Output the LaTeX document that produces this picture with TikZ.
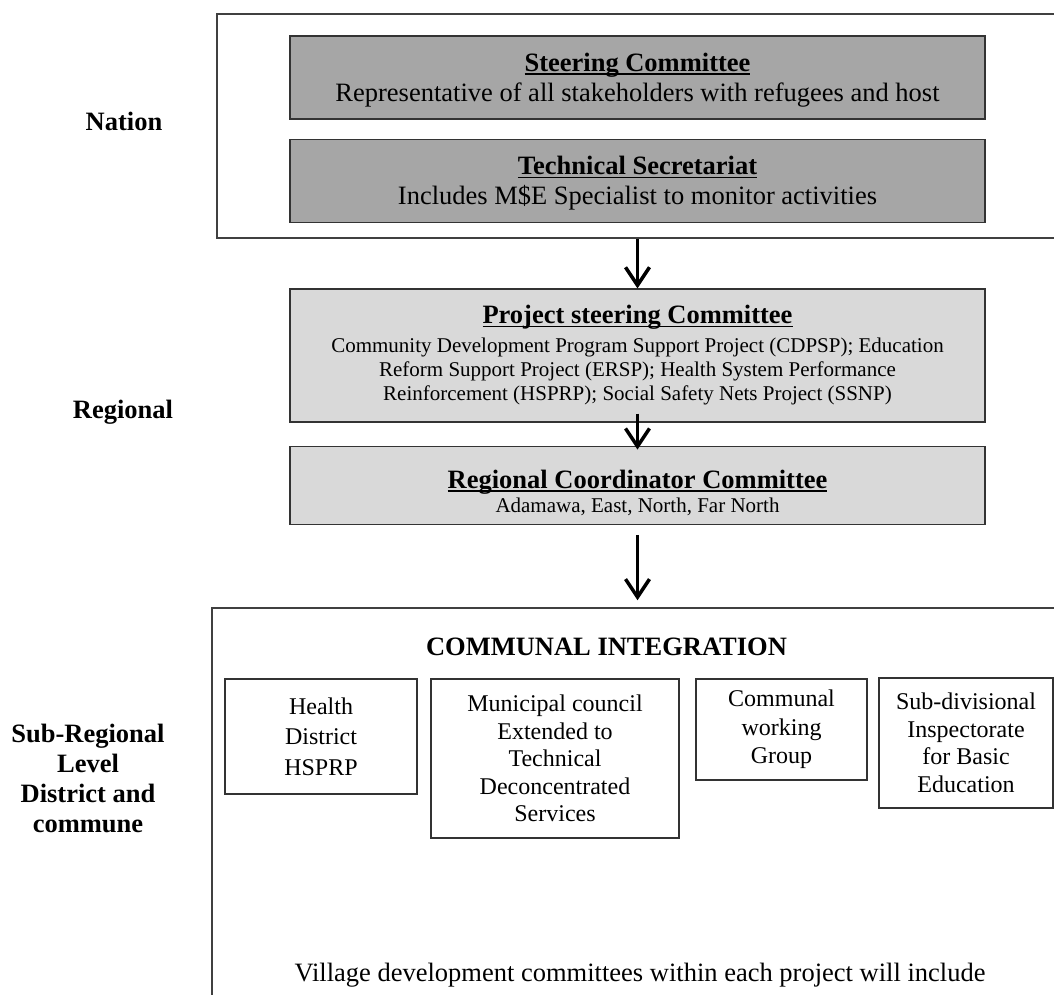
\documentclass[tikz,border=0pt]{standalone}
\usepackage{fontspec}
\setmainfont{Liberation Serif}
\usetikzlibrary{arrows.meta,positioning}

\newcommand{\uln}[1]{\setbox0\hbox{#1}\leavevmode\rlap{\rule[-3.5pt]{\wd0}{1.8pt}}\box0}
\newcommand{\bigtxt}{\fontsize{26.5}{30}\selectfont}
\newcommand{\midtxt}{\fontsize{24}{27.5}\selectfont}
\newcommand{\smalltxt}{\fontsize{21}{24}\selectfont}

\tikzset{
  outerbox/.style={draw=black!75, line width=1.5pt},
  darkbox/.style={draw=black!80, fill=black!35, line width=1.2pt, inner sep=0pt,
                  minimum width=695pt, align=center, font=\bigtxt},
  lightbox/.style={draw=black!80, fill=black!15, line width=1.2pt, inner sep=0pt,
                   minimum width=695pt, align=center, font=\smalltxt},
  subbox/.style={draw=black!80, line width=1.2pt, inner sep=0pt, align=center},
  level/.style={font=\bigtxt\bfseries, align=center},
  flow/.style={-{Straight Barb[length=18pt,width=24pt]}, line width=3.5pt}
}

\begin{document}
\begin{tikzpicture}[x=1pt,y=-1pt]
  \useasboundingbox (0,0) rectangle (1054,995);
  \clip (0,0) rectangle (1054,995);

  % level names
  \node[level] (nation) at (124,121) {Nation};
  \node[level] (regional) at (123,412) {Regional};
  \node[level] (subreg) at (88,778) {Sub-Regional\\Level\\District and\\commune};

  % nation
  \node[outerbox, minimum width=863pt, minimum height=224pt] (nat) at (648.5,126) {};
  \node[darkbox, minimum height=83pt] (steer) at (637.5,77.5)
    {\rule{0pt}{24pt}\textbf{\uln{Steering Committee}}\\Representative of all stakeholders with refugees and host};
  \node[darkbox, minimum height=83pt, below=19pt of steer] (techsec)
    {\rule{0pt}{24pt}\textbf{\uln{Technical Secretariat}}\\Includes M\$E Specialist to monitor activities};

  % regional
  \node[lightbox, minimum height=133pt] (psc) at (637.5,355.5)
    {{\bigtxt\textbf{\uln{Project steering Committee}}}\\[5pt]
     Community Development Program Support Project (CDPSP); Education\\
     Reform Support Project (ERSP); Health System Performance\\
     Reinforcement (HSPRP); Social Safety Nets Project (SSNP)};
  \node[lightbox, minimum height=78pt, below=23pt of psc] (rcc)
    {{\bigtxt\rule{0pt}{34pt}\textbf{\uln{Regional Coordinator Committee}}}\\
     Adamawa, East, North, Far North};

  % sub-regional
  \node[outerbox, minimum width=880pt, minimum height=422pt] (comm) at (652,819) {};
  \node[font=\bigtxt\bfseries] (commtitle) at (606.5,647) {COMMUNAL INTEGRATION};
  \node[subbox, font=\fontsize{24}{30.5}\selectfont, minimum width=192pt, minimum height=115pt]
    (health) at (321,736.5) {Health\\District\\HSPRP};
  \node[subbox, font=\midtxt, minimum width=248pt, minimum height=159pt]
    (council) at (555,758.5) {Municipal council\\Extended to\\Technical\\Deconcentrated\\Services};
  \node[subbox, font=\fontsize{24}{28.5}\selectfont, minimum width=171pt, minimum height=101pt]
    (working) at (781.5,729.5) {Communal\\working\\Group};
  \node[subbox, font=\midtxt, minimum width=174pt, minimum height=130pt]
    (inspect) at (966,743) {Sub-divisional\\Inspectorate\\for Basic\\Education};
  \node[font=\bigtxt] (village) at (640,975) {Village development committees within each project will include};

  % arrows
  \draw[flow] (psc.north |- nat.south) -- (psc.north);
  \draw[flow] ([yshift=9pt]psc.south) -- ([yshift=-4pt]rcc.north);
  \draw[flow] ([yshift=-10pt]rcc.south) -- ([yshift=7pt]rcc.south |- comm.north);
\end{tikzpicture}
\end{document}
